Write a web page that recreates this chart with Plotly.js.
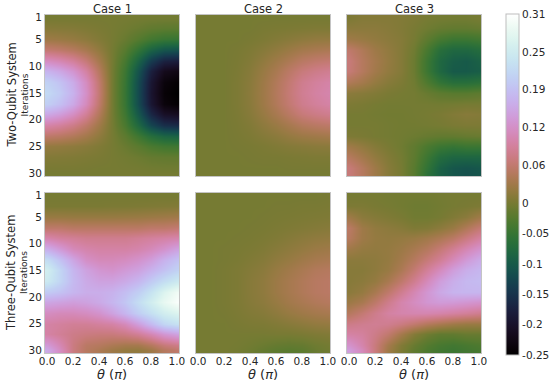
<!DOCTYPE html>
<html><head><meta charset="utf-8">
<script src="https://cdn.plot.ly/plotly-3.0.1.min.js"></script>
<style>html,body{margin:0;padding:0;background:#fff}#c{width:550px;height:382px}</style>
</head><body><div id="c"></div>
<script>
const theta=[0,0.1,0.2,0.3,0.4,0.5,0.6,0.7,0.8,0.9,1];
const iterations=[1,3,5,7,9,11,13,15,17,19,21,23,25,27,29,30];
const caseTitles=["Case 1","Case 2","Case 3"];
const rowTitles=["Two-Qubit System","Three-Qubit System"];
const xTickVals=[0,0.2,0.4,0.6,0.8,1];
const xTickText=["0.0","0.2","0.4","0.6","0.8","1.0"];
const yTickVals=[1,5,10,15,20,25,30];
const cbTickVals=[-0.25,-0.2,-0.15,-0.1,-0.05,0,0.0625,0.125,0.1875,0.25,0.3125];
const cbTickText=["-0.25","-0.2","-0.15","-0.1","-0.05","0","0.06","0.12","0.19","0.25","0.31"];

const twoCase1=[
[0,0,0,0,0,0,-.001,-.002,-.003,-.003,-.003],
[.011,.01,.009,.006,.003,0,-.004,-.009,-.015,-.018,-.019],
[.029,.026,.022,.016,.008,0,-.01,-.024,-.039,-.048,-.05],
[.066,.06,.051,.038,.02,-.001,-.023,-.054,-.088,-.108,-.112],
[.121,.11,.094,.069,.036,-.001,-.036,-.086,-.14,-.173,-.18],
[.172,.156,.133,.098,.051,-.002,-.045,-.108,-.176,-.216,-.225],
[.209,.19,.162,.119,.062,-.002,-.049,-.118,-.191,-.235,-.245],
[.22,.2,.17,.125,.065,-.002,-.05,-.12,-.195,-.24,-.25],
[.205,.186,.158,.116,.06,-.002,-.049,-.118,-.191,-.235,-.245],
[.158,.144,.122,.09,.047,-.002,-.043,-.102,-.166,-.204,-.212],
[.103,.094,.08,.059,.031,-.001,-.033,-.078,-.127,-.156,-.162],
[.059,.054,.046,.034,.018,0,-.018,-.042,-.068,-.084,-.088],
[.022,.02,.017,.013,.007,0,-.009,-.02,-.033,-.041,-.043],
[.009,.008,.007,.005,.003,0,-.003,-.007,-.012,-.014,-.015],
[.002,.002,.002,.001,0,0,-.001,-.002,-.004,-.005,-.005],
[0,0,0,0,0,0,0,-.001,-.002,-.002,-.002]];

const twoCase2=[
[0,0,0,0,0,0,0,0,0,0,0],
[0,0,0,0,0,.002,.003,.004,.005,.006,.006],
[0,0,0,0,.002,.005,.009,.013,.017,.02,.021],
[0,0,0,.002,.006,.012,.019,.027,.035,.039,.042],
[0,0,0,.003,.009,.019,.03,.042,.054,.061,.065],
[0,0,0,.004,.012,.025,.039,.056,.071,.08,.086],
[0,0,0,.005,.014,.029,.046,.065,.084,.094,.101],
[0,0,0,.005,.015,.03,.048,.068,.087,.098,.105],
[0,0,0,.005,.014,.029,.046,.065,.083,.093,.1],
[0,0,0,.004,.012,.024,.038,.054,.07,.078,.084],
[0,0,0,.003,.008,.017,.026,.037,.048,.054,.058],
[0,0,0,.002,.005,.01,.015,.022,.028,.031,.034],
[0,0,0,.001,.002,.004,.007,.01,.012,.014,.015],
[0,0,0,0,.001,.002,.002,.003,.004,.005,.005],
[0,0,0,0,0,0,0,.001,.001,.001,.001],
[0,0,0,0,0,0,0,0,0,0,0]];

const twoCase3=[
[.005,.01,.01,.01,.008,.005,0,-.002,-.003,-.003,0],
[.015,.015,.015,.012,.008,.002,-.005,-.011,-.014,-.014,-.011],
[.03,.025,.02,.015,.01,0,-.018,-.036,-.045,-.045,-.04],
[.06,.045,.03,.02,.01,-.005,-.035,-.067,-.08,-.08,-.072],
[.07,.05,.035,.022,.01,-.008,-.045,-.08,-.095,-.1,-.09],
[.068,.05,.033,.02,.01,-.008,-.045,-.08,-.1,-.1,-.095],
[.045,.035,.022,.012,.005,-.005,-.03,-.055,-.068,-.068,-.062],
[.015,.012,.008,.003,0,-.002,-.01,-.018,-.022,-.022,-.018],
[.005,.003,0,-.002,-.002,-.002,-.002,-.003,-.002,0,0],
[0,0,-.002,-.003,-.003,-.002,0,.003,.008,.012,.01],
[0,0,0,-.002,-.003,-.003,-.002,0,.003,.005,.005],
[.005,.003,0,-.002,-.004,-.007,-.011,-.014,-.014,-.011,-.009],
[.03,.02,.01,.002,-.005,-.016,-.032,-.045,-.05,-.045,-.045],
[.05,.035,.02,.008,-.002,-.018,-.045,-.072,-.082,-.082,-.082],
[.07,.05,.03,.012,0,-.022,-.055,-.09,-.105,-.11,-.105],
[.07,.05,.03,.012,0,-.022,-.06,-.09,-.105,-.112,-.108]];

const threeCase1=[
[0,0,0,0,0,0,0,0,0,0,0],
[.003,.003,.003,.003,.003,.004,.004,.005,.006,.007,.008],
[.025,.025,.024,.024,.024,.024,.025,.026,.028,.03,.032],
[.06,.06,.055,.055,.055,.055,.055,.055,.06,.06,.065],
[.105,.095,.09,.085,.085,.085,.085,.09,.095,.1,.105],
[.165,.14,.115,.105,.1,.1,.1,.105,.115,.13,.15],
[.225,.19,.155,.125,.115,.115,.12,.13,.145,.17,.19],
[.255,.215,.175,.15,.135,.13,.14,.15,.17,.19,.21],
[.245,.215,.18,.16,.15,.15,.16,.175,.2,.225,.245],
[.2,.19,.175,.165,.165,.17,.185,.205,.235,.27,.295],
[.155,.15,.145,.15,.16,.175,.195,.225,.255,.285,.305],
[.12,.115,.115,.12,.13,.15,.175,.205,.23,.255,.27],
[.1,.095,.09,.09,.095,.1,.115,.145,.18,.215,.23],
[.1,.09,.08,.075,.072,.072,.078,.09,.11,.135,.15],
[.14,.11,.075,.055,.05,.042,.036,.036,.05,.07,.08],
[.16,.12,.075,.052,.042,.03,.022,.02,.03,.05,.06]];

const threeCase2=[
[0,0,0,0,0,0,0,0,0,0,.001],
[0,0,0,0,0,0,.001,.001,.002,.002,.003],
[0,0,0,0,0,.001,.002,.003,.004,.005,.006],
[0,0,0,0,.001,.002,.004,.006,.008,.01,.012],
[0,0,0,.001,.002,.004,.007,.011,.015,.018,.02],
[0,0,.001,.002,.004,.007,.012,.017,.022,.027,.03],
[0,0,.001,.003,.007,.011,.018,.024,.031,.037,.04],
[0,0,.002,.005,.01,.015,.024,.032,.04,.047,.05],
[0,0,.002,.005,.012,.018,.028,.037,.045,.052,.055],
[0,0,.002,.005,.012,.018,.028,.037,.045,.052,.055],
[0,0,.002,.005,.011,.016,.024,.033,.04,.046,.05],
[0,0,.001,.004,.008,.011,.017,.024,.03,.035,.038],
[0,0,0,.002,.004,.005,.008,.012,.016,.02,.022],
[0,0,0,0,0,0,.001,.001,.003,.006,.008],
[0,0,0,-.001,-.004,-.008,-.012,-.014,-.012,-.006,-.002],
[0,0,0,-.002,-.006,-.012,-.018,-.021,-.018,-.009,-.004]];

const threeCase3=[
[0,0,0,-.002,-.003,-.004,-.004,-.002,0,0,0],
[.005,.005,.002,0,-.003,-.006,-.006,-.003,0,.002,.005],
[.03,.015,.01,.006,.002,-.004,-.004,0,.007,.015,.03],
[.055,.03,.02,.016,.012,.006,.008,.016,.026,.045,.065],
[.05,.03,.022,.02,.022,.025,.032,.042,.055,.075,.095],
[.03,.022,.02,.022,.028,.038,.05,.068,.088,.11,.13],
[.015,.015,.017,.022,.034,.05,.07,.09,.115,.14,.16],
[.012,.012,.017,.025,.042,.065,.092,.118,.145,.165,.175],
[.012,.015,.022,.038,.06,.085,.115,.145,.165,.178,.182],
[.015,.022,.038,.06,.085,.11,.135,.158,.172,.175,.175],
[.028,.038,.058,.082,.105,.12,.135,.142,.14,.135,.13],
[.05,.065,.082,.098,.105,.108,.108,.104,.098,.092,.085],
[.08,.085,.088,.085,.075,.062,.048,.038,.03,.025,.025],
[.1,.095,.08,.062,.035,.01,-.005,-.015,-.015,-.01,-.01],
[.13,.105,.072,.035,.008,-.01,-.025,-.035,-.04,-.035,-.03],
[.145,.115,.072,.03,.005,-.015,-.03,-.04,-.045,-.04,-.035]];

const panels=[twoCase1,twoCase2,twoCase3,threeCase1,threeCase2,threeCase3];

function cubehelix(t){
  const phi=2*Math.PI*(0.5/3-1.5*t), a=t*(1-t)/2, c=Math.cos(phi), s=Math.sin(phi);
  const ch=v=>Math.round(255*Math.min(1,Math.max(0,v)));
  return `rgb(${ch(t+a*(-0.14861*c+1.78277*s))},${ch(t+a*(-0.29227*c-0.90649*s))},${ch(t+a*1.97294*c)})`;
}
const colorscale=[];
for(let i=0;i<=64;i++)colorscale.push([i/64,cubehelix(i/64)]);

const W=550,H=382,font="DejaVu Sans",ink="#262626";
const colsPx=[[45,179],[196,330],[347,481]];
const rowsPx=[[15,176],[193,353]];
const data=[],layout={
  width:W,height:H,margin:{l:0,r:0,t:0,b:0,pad:0,autoexpand:false},paper_bgcolor:"#fff",plot_bgcolor:"#fff",
  font:{family:font,color:ink,size:11},showlegend:false,annotations:[],
  coloraxis:{cmin:-0.25,cmax:0.3125,colorscale,colorbar:{
    thickness:13,thicknessmode:"pixels",len:341/H,lenmode:"fraction",
    xref:"container",yref:"container",x:506/W,xanchor:"left",y:1-14/H,yanchor:"top",
    xpad:0,ypad:0,outlinecolor:"#bdbdbd",outlinewidth:1,borderwidth:0,
    tickmode:"array",tickvals:cbTickVals,ticktext:cbTickText,ticks:"",ticklen:0,
    tickfont:{family:font,size:10.5,color:ink}}}
};
panels.forEach((z,i)=>{
  const r=Math.floor(i/3),c=i%3,n=i+1,sfx=n>1?n:"";
  data.push({type:"heatmap",x:theta,y:iterations,z,coloraxis:"coloraxis",zsmooth:"best",xaxis:"x"+sfx,yaxis:"y"+sfx});
  const ax={domain:[colsPx[c][0]/W,colsPx[c][1]/W],range:[-0.017,1.017],showgrid:false,zeroline:false,ticks:"",automargin:false,
    showline:true,mirror:true,linecolor:"#c4c4c4",linewidth:1,anchor:"y"+sfx,ticklabelstandoff:-2,
    showticklabels:r===1,tickmode:"array",tickvals:xTickVals,ticktext:xTickText,tickfont:{family:font,size:10.5,color:ink},ticklen:0};
  const ay={domain:[1-rowsPx[r][1]/H,1-rowsPx[r][0]/H],range:[30.5,0.5],showgrid:false,zeroline:false,ticks:"",automargin:false,
    showline:true,mirror:true,linecolor:"#c4c4c4",linewidth:1,anchor:"x"+sfx,
    showticklabels:c===0,tickmode:"array",tickvals:yTickVals,tickfont:{family:font,size:10.5,color:ink},ticklen:0};
  layout["xaxis"+sfx]=ax;layout["yaxis"+sfx]=ay;
  if(r===1)layout.annotations.push({text:"<i>θ</i> (<i>π</i>)",xref:"paper",yref:"paper",x:(colsPx[c][0]+colsPx[c][1])/2/W,y:1-374/H,xanchor:"center",yanchor:"middle",showarrow:false,borderpad:0,font:{family:font,size:13,color:ink}});
  if(c===0)layout.annotations.push({text:"Iterations",xref:"paper",yref:"paper",x:24/W,y:1-(rowsPx[r][0]+rowsPx[r][1])/2/H,xanchor:"center",yanchor:"middle",textangle:-90,showarrow:false,borderpad:0,font:{family:font,size:9,color:ink}});
});
caseTitles.forEach((t,c)=>layout.annotations.push({text:t,xref:"paper",yref:"paper",x:(colsPx[c][0]+colsPx[c][1])/2/W,y:1-9/H,xanchor:"center",yanchor:"middle",showarrow:false,borderpad:0,font:{family:font,size:11.5,color:ink}}));
rowTitles.forEach((t,r)=>layout.annotations.push({text:t,xref:"paper",yref:"paper",x:11/W,y:1-(rowsPx[r][0]+rowsPx[r][1])/2/H,xanchor:"center",yanchor:"middle",textangle:-90,showarrow:false,borderpad:0,font:{family:font,size:11.5,color:ink}}));
Plotly.newPlot("c",data,layout,{displayModeBar:false,staticPlot:true});
</script></body></html>
